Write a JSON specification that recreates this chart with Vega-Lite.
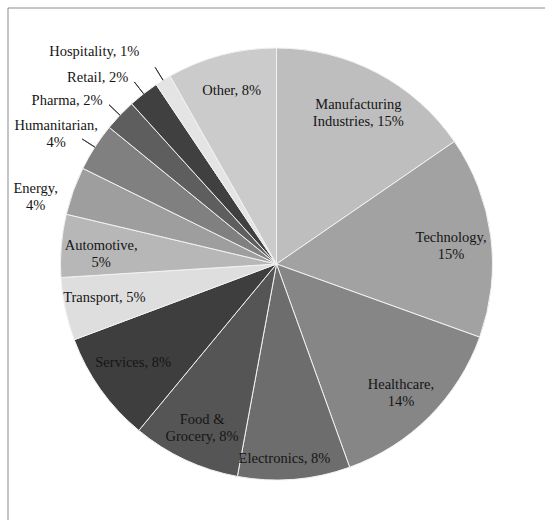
{
  "$schema": "https://vega.github.io/schema/vega-lite/v6.json",
  "width": 537,
  "height": 512,
  "autosize": "none",
  "padding": {"left": 8, "top": 8, "right": 0, "bottom": 0},
  "background": "white",
  "config": {"view": {"stroke": null}},
  "data": {
    "values": [
      {"rank": 1, "category": "Manufacturing Industries", "share": 15.4, "label": "Manufacturing\nIndustries, 15%"},
      {"rank": 2, "category": "Technology", "share": 15.1, "label": "Technology,\n15%"},
      {"rank": 3, "category": "Healthcare", "share": 14.0, "label": "Healthcare,\n14%"},
      {"rank": 4, "category": "Electronics", "share": 8.4, "label": "Electronics, 8%"},
      {"rank": 5, "category": "Food & Grocery", "share": 8.1, "label": "Food &\nGrocery, 8%"},
      {"rank": 6, "category": "Services", "share": 8.3, "label": "Services, 8%"},
      {"rank": 7, "category": "Transport", "share": 4.7, "label": "Transport, 5%"},
      {"rank": 8, "category": "Automotive", "share": 4.7, "label": "Automotive,\n5%"},
      {"rank": 9, "category": "Energy", "share": 3.6, "label": "Energy,\n4%"},
      {"rank": 10, "category": "Humanitarian", "share": 3.6, "label": "Humanitarian,\n4%"},
      {"rank": 11, "category": "Pharma", "share": 2.4, "label": "Pharma, 2%"},
      {"rank": 12, "category": "Retail", "share": 2.3, "label": "Retail, 2%"},
      {"rank": 13, "category": "Hospitality", "share": 1.2, "label": "Hospitality, 1%"},
      {"rank": 14, "category": "Other", "share": 8.2, "label": "Other, 8%"}
    ]
  },
  "layer": [
    {
      "data": {"values": [{"frame": 1}]},
      "mark": {"type": "rect", "fillOpacity": 0, "stroke": "#8c8c8c", "strokeWidth": 1, "strokeDash": [537, 1049, 512, 1]},
      "encoding": {}
    },
    {
      "mark": {"type": "arc", "outerRadius": 216, "stroke": "#f2f2f2", "strokeWidth": 1},
      "encoding": {
        "theta": {"field": "share", "type": "quantitative", "stack": true},
        "order": {"field": "rank", "type": "quantitative"},
        "color": {
          "field": "category",
          "type": "nominal",
          "legend": null,
          "scale": {
            "domain": ["Manufacturing Industries", "Technology", "Healthcare", "Electronics", "Food & Grocery", "Services", "Transport", "Automotive", "Energy", "Humanitarian", "Pharma", "Retail", "Hospitality", "Other"],
            "range": ["#bebebe", "#a2a2a2", "#868686", "#6d6d6d", "#555555", "#3e3e3e", "#dedede", "#b7b7b7", "#9e9e9e", "#808080", "#5e5e5e", "#404040", "#e4e4e4", "#cbcbcb"]
          }
        }
      }
    },
    {
      "mark": {"type": "arc", "innerRadius": 216, "outerRadius": 231, "padAngle": 0.6, "fillOpacity": 0, "stroke": "#3a3a3a", "strokeWidth": 1},
      "encoding": {
        "theta": {"field": "share", "type": "quantitative", "stack": true},
        "order": {"field": "rank", "type": "quantitative"},
        "strokeOpacity": {
          "condition": {"test": "indexof(['Hospitality','Retail','Pharma','Humanitarian'], datum.category) >= 0", "value": 1},
          "value": 0
        }
      }
    },
    {
      "mark": {"type": "text", "radius": 176, "dy": -3, "align": "center", "baseline": "middle", "lineBreak": "\n", "font": "Liberation Serif", "fontSize": 14.5, "lineHeight": 17, "fill": "#151515"},
      "encoding": {
        "theta": {"field": "share", "type": "quantitative", "stack": true},
        "order": {"field": "rank", "type": "quantitative"},
        "text": {"field": "label", "type": "nominal"},
        "opacity": {
          "condition": {"test": "indexof(['Hospitality','Retail','Pharma','Humanitarian','Energy','Electronics'], datum.category) < 0", "value": 1},
          "value": 0
        }
      }
    },
    {
      "mark": {"type": "text", "radius": 196, "dx": -8, "align": "center", "baseline": "middle", "lineBreak": "\n", "font": "Liberation Serif", "fontSize": 14.5, "lineHeight": 17, "fill": "#151515"},
      "encoding": {
        "theta": {"field": "share", "type": "quantitative", "stack": true},
        "order": {"field": "rank", "type": "quantitative"},
        "text": {"field": "label", "type": "nominal"},
        "opacity": {"condition": {"test": "datum.category === 'Electronics'", "value": 1}, "value": 0}
      }
    },
    {
      "mark": {"type": "text", "radius": 246, "dx": -8, "dy": -3, "align": "right", "baseline": "middle", "font": "Liberation Serif", "fontSize": 14.5, "fill": "#151515"},
      "encoding": {
        "theta": {"field": "share", "type": "quantitative", "stack": true},
        "order": {"field": "rank", "type": "quantitative"},
        "text": {"field": "label", "type": "nominal"},
        "opacity": {"condition": {"test": "datum.category === 'Hospitality'", "value": 1}, "value": 0}
      }
    },
    {
      "mark": {"type": "text", "radius": 236, "dx": -3, "align": "right", "baseline": "middle", "font": "Liberation Serif", "fontSize": 14.5, "fill": "#151515"},
      "encoding": {
        "theta": {"field": "share", "type": "quantitative", "stack": true},
        "order": {"field": "rank", "type": "quantitative"},
        "text": {"field": "label", "type": "nominal"},
        "opacity": {"condition": {"test": "datum.category === 'Retail' || datum.category === 'Pharma'", "value": 1}, "value": 0}
      }
    },
    {
      "mark": {"type": "text", "radius": 256, "dy": 12, "align": "center", "baseline": "middle", "lineBreak": "\n", "font": "Liberation Serif", "fontSize": 14.5, "lineHeight": 17, "fill": "#151515"},
      "encoding": {
        "theta": {"field": "share", "type": "quantitative", "stack": true},
        "order": {"field": "rank", "type": "quantitative"},
        "text": {"field": "label", "type": "nominal"},
        "opacity": {"condition": {"test": "datum.category === 'Energy'", "value": 1}, "value": 0}
      }
    },
    {
      "mark": {"type": "text", "radius": 262, "dy": 4, "align": "center", "baseline": "middle", "lineBreak": "\n", "font": "Liberation Serif", "fontSize": 14.5, "lineHeight": 17, "fill": "#151515"},
      "encoding": {
        "theta": {"field": "share", "type": "quantitative", "stack": true},
        "order": {"field": "rank", "type": "quantitative"},
        "text": {"field": "label", "type": "nominal"},
        "opacity": {"condition": {"test": "datum.category === 'Humanitarian'", "value": 1}, "value": 0}
      }
    }
  ]
}
